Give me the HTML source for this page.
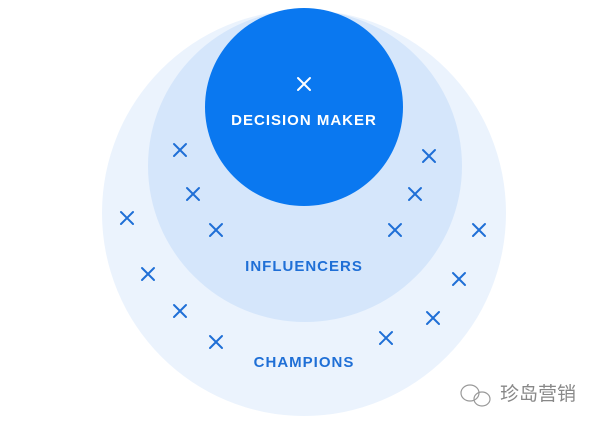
<!DOCTYPE html>
<html><head><meta charset="utf-8"><style>
html,body{margin:0;padding:0;background:#fff;width:600px;height:423px;overflow:hidden}
svg{display:block}
</style></head><body>
<svg width="600" height="423" viewBox="0 0 600 423" xmlns="http://www.w3.org/2000/svg">
<ellipse cx="304" cy="213" rx="202" ry="203" fill="#ebf3fd"/>
<ellipse cx="305" cy="166" rx="157" ry="156" fill="#d5e6fb"/>
<ellipse cx="304" cy="107" rx="99" ry="99" fill="#0a78f0"/>
<g stroke="#1f6fd6" stroke-width="2" fill="none" stroke-linecap="round">
<path id="x" d="M-6,-6L6,6M6,-6L-6,6" transform="translate(180,150)"/>
<path d="M-6,-6L6,6M6,-6L-6,6" transform="translate(193,194)"/>
<path d="M-6,-6L6,6M6,-6L-6,6" transform="translate(216,230)"/>
<path d="M-6,-6L6,6M6,-6L-6,6" transform="translate(127,218)"/>
<path d="M-6,-6L6,6M6,-6L-6,6" transform="translate(148,274)"/>
<path d="M-6,-6L6,6M6,-6L-6,6" transform="translate(180,311)"/>
<path d="M-6,-6L6,6M6,-6L-6,6" transform="translate(216,342)"/>
<path d="M-6,-6L6,6M6,-6L-6,6" transform="translate(429,156)"/>
<path d="M-6,-6L6,6M6,-6L-6,6" transform="translate(415,194)"/>
<path d="M-6,-6L6,6M6,-6L-6,6" transform="translate(395,230)"/>
<path d="M-6,-6L6,6M6,-6L-6,6" transform="translate(479,230)"/>
<path d="M-6,-6L6,6M6,-6L-6,6" transform="translate(459,279)"/>
<path d="M-6,-6L6,6M6,-6L-6,6" transform="translate(433,318)"/>
<path d="M-6,-6L6,6M6,-6L-6,6" transform="translate(386,338)"/>
</g>
<path d="M-6,-6L6,6M6,-6L-6,6" transform="translate(304,84)" stroke="#fff" stroke-width="2" stroke-linecap="round"/>
<g font-family="Liberation Sans, sans-serif" font-weight="bold" font-size="15" text-anchor="middle" letter-spacing="1">
<text x="304" y="125" fill="#fff">DECISION MAKER</text>
<text x="304" y="271" fill="#1f6fd6">INFLUENCERS</text>
<text x="304" y="367" fill="#1f6fd6">CHAMPIONS</text>
</g>
<g fill="none" stroke="#999" stroke-width="1.2">
<ellipse cx="470" cy="393" rx="9" ry="8"/>
<ellipse cx="482" cy="399" rx="8" ry="7"/>
</g>
<text x="538" y="400" font-family="Liberation Sans, Noto Sans CJK SC, sans-serif" font-size="19" fill="#888" text-anchor="middle">珍岛营销</text>
</svg>
</body></html>
